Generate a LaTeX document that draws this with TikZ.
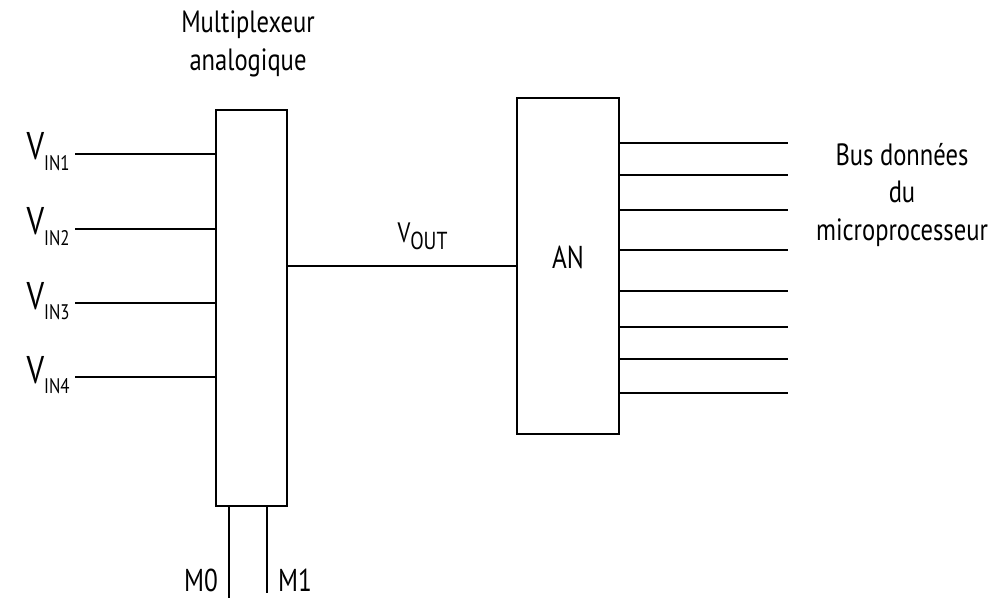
\documentclass[tikz,border=0pt]{standalone}
\usepackage{fontspec}
\setmainfont[FakeStretch=0.8]{PT Sans}
\usetikzlibrary{positioning}

\newcommand{\sigin}[1]{{\fontsize{22}{22}\selectfont V}\raisebox{-6pt}{\fontsize{12}{12}\selectfont #1}}
\newcommand{\sigout}{{\fontsize{16}{16}\selectfont V}\raisebox{-4pt}{\fontsize{14}{14}\selectfont OUT}}

\begin{document}
\begin{tikzpicture}[
    x=0.02cm, y=-0.02cm,
    box/.style={rectangle, draw, line width=1.3pt, inner sep=0pt, fill=white},
    wire/.style={line width=1.3pt},
    lbl/.style={inner sep=0pt, font=\fontsize{17.5}{22}\selectfont}
]
\useasboundingbox (0,0) rectangle (997,601);

\node[box, minimum width=1.42cm, minimum height=7.92cm] (mux) at (251.5,308) {};
\node[box, minimum width=2.04cm, minimum height=6.72cm, font=\fontsize{18}{18}\selectfont] (adc) at (568,266) {\raisebox{-1.5pt}[0pt][0pt]{AN}};
\node[lbl, align=center] (muxtitle) at (248,44) {Multiplexeur\\analogique};

\coordinate (in1) at (75,154);
\coordinate (in2) at (75,229);
\coordinate (in3) at (75,303);
\coordinate (in4) at (75,377);
\node[lbl, anchor=base east] (vin1) at (70,160) {\sigin{IN1}};
\node[lbl, anchor=base east] (vin2) at (70,235) {\sigin{IN2}};
\node[lbl, anchor=base east] (vin3) at (70,309) {\sigin{IN3}};
\node[lbl, anchor=base east] (vin4) at (70,383) {\sigin{IN4}};

\draw[wire] (in1) -- (in1 -| mux.west);
\draw[wire] (in2) -- (in2 -| mux.west);
\draw[wire] (in3) -- (in3 -| mux.west);
\draw[wire] (in4) -- (in4 -| mux.west);

\draw[wire] (mux.east |- adc.west) -- node[lbl, above=0.3cm, pos=0.59] (vout) {\sigout} (adc.west);

\coordinate (d1) at (788,143);
\coordinate (d2) at (788,175);
\coordinate (d3) at (788,210);
\coordinate (d4) at (788,250);
\coordinate (d5) at (788,291);
\coordinate (d6) at (788,327);
\coordinate (d7) at (788,359);
\coordinate (d8) at (788,393);
\draw[wire] (d1 -| adc.east) -- (d1);
\draw[wire] (d2 -| adc.east) -- (d2);
\draw[wire] (d3 -| adc.east) -- (d3);
\draw[wire] (d4 -| adc.east) -- (d4);
\draw[wire] (d5 -| adc.east) -- (d5);
\draw[wire] (d6 -| adc.east) -- (d6);
\draw[wire] (d7 -| adc.east) -- (d7);
\draw[wire] (d8 -| adc.east) -- (d8);
\node[lbl, align=center, font=\fontsize{17.5}{21.5}\selectfont] (bus) at (902,195) {Bus données\\du\\microprocesseur};

\coordinate (m0) at (229,598);
\coordinate (m1) at (267,593);
\draw[wire] (m0 |- mux.south) -- (m0);
\draw[wire] (m1 |- mux.south) -- (m1);
\node[lbl, font=\fontsize{18}{18}\selectfont] (m0lbl) at (201,580) {M0};
\node[lbl, font=\fontsize{18}{18}\selectfont] (m1lbl) at (295,580) {M1};
\end{tikzpicture}
\end{document}
